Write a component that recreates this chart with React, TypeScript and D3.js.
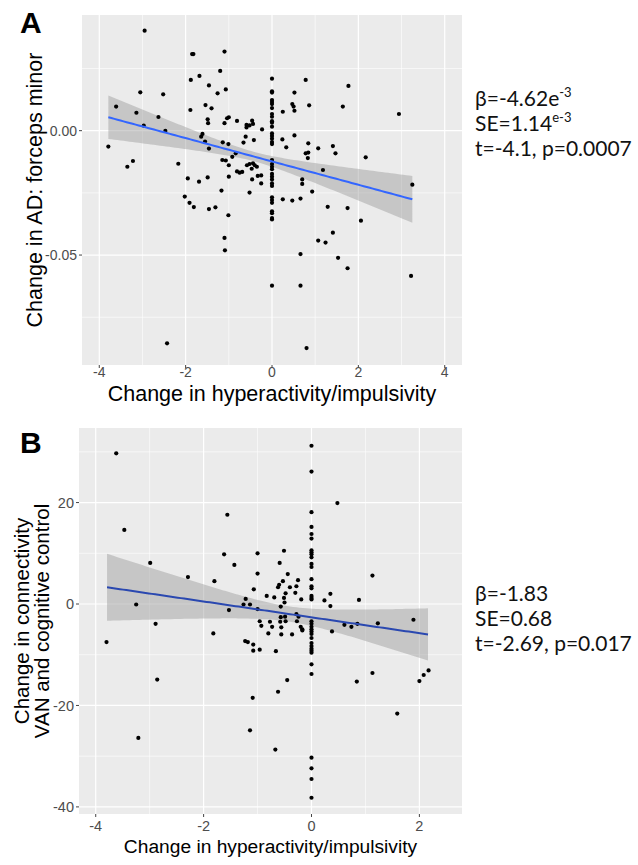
import React from 'react';
import * as d3 from 'd3';

// ---------- Panel A data (change in hyperactivity/impulsivity vs change in AD) ----------
const aX = [
  -2.95, -1.85, -1.82, -1.10, -1.20, -1.68, -1.88, -1.46, -1.26, -1.07, -3.05, -2.52, -3.61, -3.14, -2.97, -2.63,
  -2.47, -3.79, -3.35, -3.22, -2.17, -1.89, -1.54, -1.40, -1.49, -1.48, -1.61, -1.64, -1.55, -1.46, -1.10, -1.04,
  -1.00, -0.81, -1.14, -1.01, -1.15, -1.07, -1.00, -0.92, -0.84, -1.00, -0.81, -0.75, -0.69, -0.66, -0.61, -0.59,
  -0.59, -0.52, -0.46, -0.44, -0.42, -0.23, -0.58, -0.52, -0.47, -0.44, -0.40, -0.35, -0.46, -0.33, -0.25, -0.25,
  -0.52, -1.95, -1.69, -1.49, -2.02, -1.91, -1.81, -1.46, -1.31, -1.17, -1.01, -1.10, -1.09, -2.43,
  0, 0, 0, 0, 0, 0, 0, 0, 0, 0, 0, 0, 0, 0, 0, 0, 0, 0, 0, 0, 0, 0, 0, 0, 0, 0, 0, 0, 0, 0, 0, 0, 0, 0,
  0.25, 0.52, 0.47, 0.50, 0.52, 0.78, 0.86, 0.24, 0.33, 0.52, 0.84, 0.78, 0.83, 0.84, 1.07, 1.41,
  1.47, 1.18, 1.77, 1.64, 2.17, 2.94, 3.25, 3.22, 0.70, 0.70, 0.93, 0.25, 0.47, 0.66, 1.29, 1.75,
  2.06, 1.41, 1.07, 1.24, 0.66, 1.53, 1.75, 0.66, 0.80,
];
const aY = [
  0.0402, 0.0308, 0.0308, 0.0318, 0.0240, 0.0220, 0.0204, 0.0182, 0.0150, 0.0166, 0.0154, 0.0146, 0.0097, 0.0072, 0.0020, 0.0055,
  -0.0001, -0.0064, -0.0145, -0.0122, -0.0133, 0.0083, 0.0103, 0.0090, 0.0046, 0.0030, -0.0013, -0.0024, -0.0044, -0.0072, 0.0030, 0.0050,
  0.0054, 0.0039, -0.0047, -0.0054, -0.0118, -0.0120, -0.0139, -0.0105, -0.0091, -0.0185, -0.0164, -0.0169, -0.0166, -0.0048, -0.0024, 0.0023,
  0.0013, 0.0021, 0.0040, 0.0027, -0.0038, 0.0005, -0.0139, -0.0134, -0.0153, -0.0131, -0.0139, -0.0145, -0.0196, -0.0182, -0.0180, -0.0212,
  -0.0249, -0.0192, -0.0205, -0.0188, -0.0265, -0.0290, -0.0307, -0.0315, -0.0308, -0.0241, -0.0340, -0.0431, -0.0481, -0.0855,
  0.0209, 0.0158, 0.0153, 0.0123, 0.0115, 0.0107, 0.0091, 0.0067, 0.0056, 0.0038, 0.0032, 0.0016, -0.0011, -0.0021, -0.0032, -0.0046,
  -0.0054, -0.0118, -0.0134, -0.0145, -0.0155, -0.0174, -0.0185, -0.0196, -0.0212, -0.0222, -0.0268, -0.0279, -0.0290, -0.0324, -0.0332, -0.0351,
  -0.0357, -0.0623,
  0.0076, 0.0153, 0.0107, 0.0097, 0.0080, 0.0204, 0.0102, -0.0035, -0.0067, -0.0019, -0.0051, -0.0091, -0.0110, -0.0088, -0.0071, -0.0062,
  -0.0091, -0.0158, 0.0180, 0.0097, -0.0107, 0.0067, -0.0217, -0.0584, -0.0196, -0.0214, -0.0245, -0.0276, -0.0281, -0.0273, -0.0306, -0.0311,
  -0.0362, -0.0410, -0.0442, -0.0450, -0.0496, -0.0511, -0.0553, -0.0623, -0.0874,
];
// fitted line: [xStart, xEnd], [yStart, yEnd]
const aFitX = [-3.79, 3.25];
const aFitY = [0.0054, -0.0276];
// confidence band: [x of narrowest point, min half width, spread coefficient]
const aBand = [-0.41, 0.0019, 6.32e-6];
const aXTicks = [-4, -2, 0, 2, 4];
const aXMinor = [-3, -1, 1, 3];
const aYTicks = [0, -0.05];
const aYTickLabels = ['0.00', '-0.05'];
const aYMinor = [0.025, -0.025, -0.075];

// ---------- Panel B data (change in hyperactivity/impulsivity vs VAN connectivity) ----------
const bX = [
  -3.62, -3.47, -3.80, -3.25, -3.21, -2.99, -2.89, -2.86, -2.29, -1.80, -1.82, -1.62, -1.56, -1.43, -1.53, -1.22,
  -1.26, -1.14, -1.07, -1.00, -1.00, -1.00, -1.23, -1.18, -1.08, -1.08, -0.96, -0.96, -0.93, -1.09, -1.14, -0.83,
  -0.80, -0.77, -0.73, -0.69, -0.66, -0.67, -0.62, -0.59, -0.62, -0.60, -0.57, -0.57, -0.58, -0.56, -0.56, -0.51,
  -0.53, -0.51, -0.50, -0.48, -0.49, -0.48, -0.44, -0.45, -0.40, -0.36, -0.30, -0.28, -0.25, -0.28, -0.27, -0.24,
  -0.20, -0.17, -0.17, -0.19,
  0, 0, 0, 0, 0, 0, 0, 0, 0, 0, 0, 0, 0, 0, 0, 0, 0, 0, 0, 0, 0, 0, 0, 0, 0, 0, 0, 0, 0, 0, 0, 0, 0, 0, 0, 0,
  0.48, 0.24, 0.35, 0.35, 0.38, 0.61, 0.74, 0.85, 0.88, 1.13, 1.23, 1.89, 0.84, 1.13, 1.59, 2.00, 2.08, 2.17,
];
const bY = [
  29.7, 14.6, -7.5, -0.1, -26.4, 8.1, -3.9, -14.9, 5.3, 4.5, -5.8, 9.8, 17.6, 7.7, -1.2, 1.0,
  -0.1, -0.1, 2.9, 10.0, 6.0, -1.0, -7.3, -7.5, -8.0, -9.2, -9.0, -3.4, -4.3, -18.5, -24.9, 1.6,
  -5.8, -3.5, -4.5, 1.3, -9.3, -28.7, -17.3, 8.1, 3.3, 3.8, -0.5, -2.6, -3.5, -4.6, -6.0, 10.5,
  4.5, 1.2, 0.3, 2.1, -2.5, -3.4, 5.9, -15.0, 3.3, -6.0, 2.2, 3.5, 4.7, -2.0, -3.4, -2.5,
  -4.5, -5.0, -5.2, 0.9,
  31.2, 26.1, 18.1, 15.2, 13.8, 12.9, 10.6, 10.2, 9.8, 9.2, 7.9, 7.3, 4.9, 3.5, 3.1, 1.6,
  1.2, 0.9, -3.4, -3.9, -4.5, -5.0, -5.4, -5.9, -6.7, -7.7, -8.3, -8.8, -9.2, -9.6, -11.9, -13.8,
  -30.3, -32.4, -34.5, -38.2,
  19.9, 0.7, 2.0, -0.4, -5.4, -4.1, -4.5, -3.9, 0.8, 5.6, -3.8, -3.1, -15.3, -13.6, -21.6, -15.2, -14.0, -13.1,
];
const bFitX = [-3.79, 2.16];
const bFitY = [3.3, -6.0];
const bBand = [-0.42, 1.5, 3.64];
const bXTicks = [-4, -2, 0, 2];
const bXMinor = [-3, -1, 1];
const bYTicks = [20, 0, -20, -40];
const bYMinor = [30, 10, -10, -30];

const FONT = '"Liberation Sans", Arial, Helvetica, sans-serif';
const NOTE_FONT = 'Lato, "Open Sans", sans-serif';

type PanelProps = {
  xs: number[]; ys: number[];
  xDomain: [number, number]; yDomain: [number, number];
  left: number; right: number; top: number; bottom: number;
  xTicks: number[]; xMinor: number[]; yTicks: number[]; yMinor: number[];
  yTickLabels?: string[];
  fitX: number[]; fitY: number[]; band: number[];
  lineColor: string;
  tickSize: number;
  xLabelY: number;
};

function Panel(p: PanelProps) {
  const x = d3.scaleLinear().domain(p.xDomain).range([p.left, p.right]);
  const y = d3.scaleLinear().domain(p.yDomain).range([p.bottom, p.top]);
  const slope = (p.fitY[1] - p.fitY[0]) / (p.fitX[1] - p.fitX[0]);
  const fit = (v: number) => p.fitY[0] + slope * (v - p.fitX[0]);
  const hw = (v: number) => Math.sqrt(p.band[1] * p.band[1] + p.band[2] * (v - p.band[0]) ** 2);
  const samples = d3.range(0, 101).map((i) => p.fitX[0] + (i / 100) * (p.fitX[1] - p.fitX[0]));
  const area = d3.area<number>()
    .x((v) => x(v))
    .y0((v) => y(fit(v) - hw(v)))
    .y1((v) => y(fit(v) + hw(v)));
  const line = d3.line<number>().x((v) => x(v)).y((v) => y(fit(v)));
  return (
    <g>
      <rect x={p.left} y={p.top} width={p.right - p.left} height={p.bottom - p.top} fill="#EBEBEB" />
      {p.xMinor.map((t) => (
        <line key={'xm' + t} x1={x(t)} x2={x(t)} y1={p.top} y2={p.bottom} stroke="#fff" strokeWidth={0.6} />
      ))}
      {p.yMinor.map((t) => (
        <line key={'ym' + t} y1={y(t)} y2={y(t)} x1={p.left} x2={p.right} stroke="#fff" strokeWidth={0.6} />
      ))}
      {p.xTicks.map((t) => (
        <line key={'xM' + t} x1={x(t)} x2={x(t)} y1={p.top} y2={p.bottom} stroke="#fff" strokeWidth={1.2} />
      ))}
      {p.yTicks.map((t) => (
        <line key={'yM' + t} y1={y(t)} y2={y(t)} x1={p.left} x2={p.right} stroke="#fff" strokeWidth={1.2} />
      ))}
      <path d={area(samples) || ''} fill="#999999" fillOpacity={0.45} />
      {p.xs.map((v, i) => (
        <circle key={i} cx={x(v)} cy={y(p.ys[i])} r={2.1} fill="#000" />
      ))}
      <path d={line(samples) || ''} fill="none" stroke={p.lineColor} strokeWidth={2} />
      {p.xTicks.map((t) => (
        <g key={'xt' + t}>
          <line x1={x(t)} x2={x(t)} y1={p.bottom} y2={p.bottom + 3} stroke="#444" strokeWidth={1} />
          <text x={x(t)} y={p.xLabelY} textAnchor="middle" fontFamily={FONT} fontSize={p.tickSize} fill="#4D4D4D">
            {String(t)}
          </text>
        </g>
      ))}
      {p.yTicks.map((t, i) => (
        <g key={'yt' + t}>
          <line x1={p.left - 3} x2={p.left} y1={y(t)} y2={y(t)} stroke="#444" strokeWidth={1} />
          <text x={p.left - 5} y={y(t)} dy="0.36em" textAnchor="end" fontFamily={FONT} fontSize={p.tickSize} fill="#4D4D4D">
            {p.yTickLabels ? p.yTickLabels[i] : String(t)}
          </text>
        </g>
      ))}
    </g>
  );
}

export default function App() {
  const aLeft = 82, aRight = 462, aTop = 15, aBottom = 365;
  const bLeft = 79, bRight = 462, bTop = 428, bBottom = 814;
  return (
    <svg width={638} height={865} style={{ position: 'absolute', left: 0, top: 0, background: '#fff' }}>
      <rect x={0} y={0} width={638} height={865} fill="#fff" />
      {/* Panel A */}
      <text x={20} y={33} fontFamily={FONT} fontWeight="bold" fontSize={30} fill="#000">A</text>
      <Panel
        xs={aX} ys={aY}
        xDomain={[-4.4, 4.4]} yDomain={[-0.0942, 0.0465]}
        left={aLeft} right={aRight} top={aTop} bottom={aBottom}
        xTicks={aXTicks} xMinor={aXMinor} yTicks={aYTicks} yMinor={aYMinor} yTickLabels={aYTickLabels}
        fitX={aFitX} fitY={aFitY} band={aBand}
        lineColor="#3366FF" tickSize={14} xLabelY={377}
      />
      <text x={(aLeft + aRight) / 2} y={401} textAnchor="middle" fontFamily={FONT} fontSize={21.5} fill="#000">
        Change in hyperactivity/impulsivity
      </text>
      <text transform={`translate(42,${(aTop + aBottom) / 2}) rotate(-90)`} textAnchor="middle" fontFamily={FONT} fontSize={21.5} fill="#000">
        Change in AD: forceps minor
      </text>
      <g fontFamily={NOTE_FONT} fontSize={21} fill="#111">
        <text x={475} y={106}>β=-4.62e<tspan fontSize={13} dy={-9}>-3</tspan></text>
        <text x={475} y={131}>SE=1.14<tspan fontSize={13} dy={-9}>e-3</tspan></text>
        <text x={475} y={156}>t=-4.1, p=0.0007</text>
      </g>

      {/* Panel B */}
      <text x={20} y={453} fontFamily={FONT} fontWeight="bold" fontSize={30} fill="#000">B</text>
      <Panel
        xs={bX} ys={bY}
        xDomain={[-4.31, 2.79]} yDomain={[-41.4, 34.7]}
        left={bLeft} right={bRight} top={bTop} bottom={bBottom}
        xTicks={bXTicks} xMinor={bXMinor} yTicks={bYTicks} yMinor={bYMinor}
        fitX={bFitX} fitY={bFitY} band={bBand}
        lineColor="#2A48B0" tickSize={14.5} xLabelY={831}
      />
      <text x={(bLeft + bRight) / 2} y={853} textAnchor="middle" fontFamily={FONT} fontSize={19.2} fill="#000">
        Change in hyperactivity/impulsivity
      </text>
      <text transform={`translate(29,${(bTop + bBottom) / 2}) rotate(-90)`} textAnchor="middle" fontFamily={FONT} fontSize={20.5} fill="#000">
        Change in connectivity
      </text>
      <text transform={`translate(49,${(bTop + bBottom) / 2}) rotate(-90)`} textAnchor="middle" fontFamily={FONT} fontSize={20.5} fill="#000">
        VAN and cognitive control
      </text>
      <g fontFamily={NOTE_FONT} fontSize={21} fill="#111">
        <text x={475} y={601}>β=-1.83</text>
        <text x={475} y={626}>SE=0.68</text>
        <text x={475} y={651}>t=-2.69, p=0.017</text>
      </g>
    </svg>
  );
}
